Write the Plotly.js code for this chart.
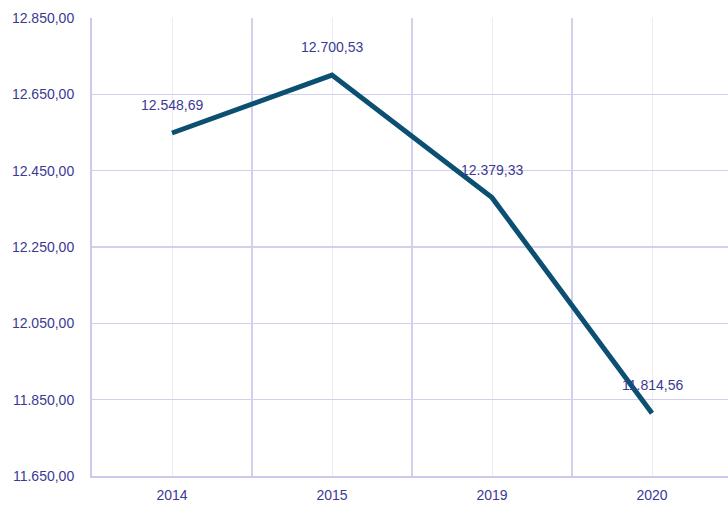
<!DOCTYPE html>
<html><head><meta charset="utf-8">
<script src="https://cdn.plot.ly/plotly-3.0.1.min.js"></script>
<style>html,body{margin:0;padding:0;overflow:hidden;background:#fff}</style>
</head><body><div id="chart" style="width:728px;height:505px"></div>
<script>
const years = ['2014', '2015', '2019', '2020'];
const values = [12548.69, 12700.53, 12379.33, 11814.56];
const yTicks = [11650, 11850, 12050, 12250, 12450, 12650, 12850];

function fmt(v) {
  const parts = v.toFixed(2).split('.');
  return parts[0].replace(/\B(?=(\d{3})+(?!\d))/g, '.') + ',' + parts[1];
}
const xIdx = years.map((_, i) => i);
const textColor = '#3b3a93';
const font = {family: 'Liberation Sans, Arial, sans-serif', size: 14, color: textColor};

const trace = {
  x: xIdx, y: values, type: 'scatter', mode: 'lines',
  line: {color: '#0b5072', width: 5},
  hoverinfo: 'skip'
};
const annotations = values.map((v, i) => ({
  x: i, y: v, text: fmt(v), showarrow: false, yshift: 28,
  font: font, xanchor: 'center', yanchor: 'middle'
}));

const layout = {
  width: 728, height: 505,
  margin: {l: 92, r: 0, t: 18, b: 29},
  paper_bgcolor: '#fff', plot_bgcolor: '#fff',
  showlegend: false,
  separators: ',.',
  font: font,
  xaxis: {
    range: [-0.5, 3.475], tickvals: xIdx, ticktext: years,
    showgrid: true, gridcolor: '#ece9f8', gridwidth: 1,
    minor: {tickmode: 'linear', tick0: -0.5, dtick: 1, showgrid: true, gridcolor: '#d3cfef', gridwidth: 1.5},
    zeroline: false, showline: true, linecolor: '#cdc8ee', linewidth: 2,
    ticks: '', ticklabelstandoff: 5, tickfont: font, fixedrange: true
  },
  yaxis: {
    range: [11650, 12850], tickvals: yTicks, ticktext: yTicks.map(fmt),
    showgrid: true, gridcolor: '#d3cfef', gridwidth: 1.5,
    zeroline: false, showline: true, linecolor: '#cdc8ee', linewidth: 2,
    ticks: '', ticklabelstandoff: 13, tickfont: font, fixedrange: true
  },
  annotations: annotations
};
Plotly.newPlot('chart', [trace], layout, {displayModeBar: false, staticPlot: true});
</script></body></html>
